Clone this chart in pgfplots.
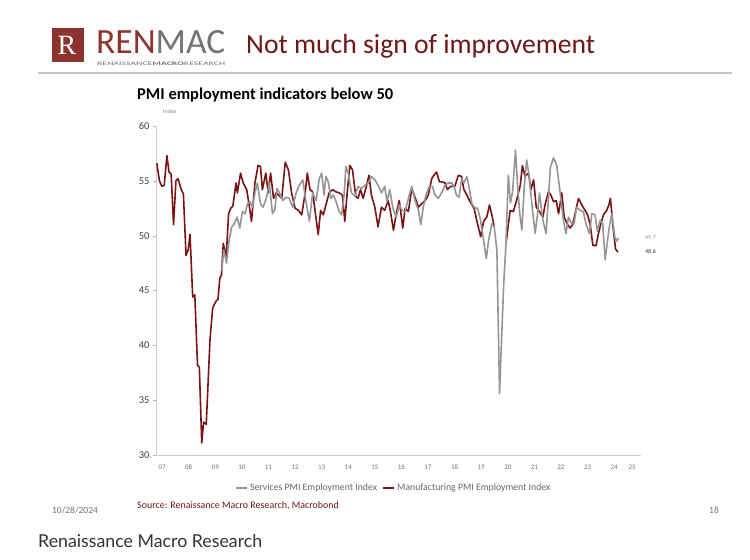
\documentclass[border=0pt]{standalone}
\usepackage{pgfplots}
\pgfplotsset{compat=1.18}
\usepackage{fontspec}
\setmainfont{Carlito}
\newfontfamily\latofont{Lato}
\newfontfamily\seriffont{Liberation Serif}
\definecolor{mfg}{RGB}{122,20,20}
\definecolor{svc}{RGB}{150,150,150}
\definecolor{brand}{RGB}{142,52,46}
\definecolor{titlered}{RGB}{110,24,24}
\definecolor{capgray}{RGB}{51,51,51}

\pgfplotstableread{
x y
2007.30 56.6
2007.40 55.0
2007.49 54.5
2007.58 54.6
2007.68 57.3
2007.76 55.8
2007.84 55.6
2007.93 51.0
2008.02 55.0
2008.10 55.2
2008.22 54.2
2008.30 53.8
2008.40 48.2
2008.48 48.7
2008.55 50.1
2008.65 44.4
2008.73 44.6
2008.83 38.2
2008.90 38.0
2008.99 31.1
2009.06 33.0
2009.16 32.8
2009.30 40.5
2009.40 43.4
2009.52 44.0
2009.60 44.2
2009.67 46.1
2009.73 46.4
2009.80 49.3
2009.91 48.0
2010.00 52.0
2010.08 52.5
2010.16 52.7
2010.28 54.8
2010.33 53.9
2010.45 55.7
2010.55 54.8
2010.68 54.2
2010.78 52.7
2010.86 51.3
2010.99 54.8
2011.11 56.4
2011.20 56.3
2011.27 54.2
2011.40 55.7
2011.49 53.9
2011.58 55.7
2011.69 53.4
2011.79 53.9
2011.88 53.7
2012.00 53.4
2012.13 56.7
2012.25 56.0
2012.37 53.9
2012.50 52.5
2012.63 52.3
2012.75 51.9
2012.88 53.9
2012.96 55.7
2013.06 54.2
2013.16 54.0
2013.25 52.3
2013.37 50.1
2013.46 52.3
2013.56 51.9
2013.66 52.8
2013.78 53.9
2013.91 54.2
2014.03 54.0
2014.16 53.9
2014.28 53.7
2014.37 51.3
2014.46 53.9
2014.56 56.4
2014.66 56.0
2014.78 53.6
2014.87 53.4
2014.96 54.2
2015.06 53.4
2015.18 54.5
2015.28 55.5
2015.37 53.7
2015.50 52.6
2015.62 50.8
2015.75 52.6
2015.87 52.3
2016.00 53.2
2016.08 52.3
2016.20 50.5
2016.32 52.2
2016.42 53.2
2016.55 50.7
2016.64 52.5
2016.76 52.2
2016.89 54.3
2017.01 53.5
2017.14 52.6
2017.26 52.9
2017.39 53.2
2017.51 53.7
2017.64 55.2
2017.72 55.5
2017.82 55.8
2017.93 54.9
2018.05 54.9
2018.14 54.8
2018.23 54.2
2018.35 54.5
2018.51 54.5
2018.64 55.5
2018.76 55.4
2018.85 54.2
2018.96 53.7
2019.08 53.1
2019.23 52.5
2019.36 51.1
2019.48 49.9
2019.59 51.3
2019.71 51.7
2019.81 52.8
2019.90 51.9
2019.99 50.8
2020.09 nan
2020.43 49.2
2020.52 51.0
2020.59 52.3
2020.71 52.2
2020.84 53.3
2020.97 54.6
2021.05 56.4
2021.15 55.4
2021.28 55.7
2021.37 54.2
2021.47 55.1
2021.57 52.6
2021.69 52.2
2021.82 51.7
2021.90 52.8
2022.03 54.0
2022.12 53.7
2022.22 53.1
2022.32 53.2
2022.41 52.0
2022.53 53.9
2022.62 51.7
2022.75 51.0
2022.84 50.7
2022.94 51.0
2023.03 52.0
2023.16 53.4
2023.28 52.8
2023.41 52.3
2023.50 51.9
2023.60 51.0
2023.70 49.1
2023.82 49.1
2023.91 50.2
2024.00 51.1
2024.10 51.9
2024.22 52.3
2024.30 52.8
2024.36 53.4
2024.45 51.0
2024.55 48.8
2024.64 48.5
}\mfgdata

\pgfplotstableread{
x y
2009.74 46.8
2009.82 48.7
2009.92 47.5
2010.02 49.6
2010.12 50.8
2010.22 51.1
2010.32 51.7
2010.42 50.7
2010.52 52.2
2010.62 52.0
2010.71 52.9
2010.80 53.1
2010.90 52.6
2010.99 53.9
2011.08 54.8
2011.20 52.9
2011.30 52.6
2011.43 53.5
2011.53 54.8
2011.65 52.0
2011.74 52.4
2011.82 54.3
2011.91 53.9
2012.04 53.2
2012.16 53.5
2012.28 53.4
2012.41 52.6
2012.54 53.9
2012.66 54.6
2012.79 55.1
2012.91 53.1
2013.04 51.3
2013.16 53.9
2013.29 53.2
2013.41 55.2
2013.50 55.7
2013.59 53.7
2013.66 55.4
2013.75 54.9
2013.84 53.4
2013.94 53.7
2014.03 53.2
2014.16 52.2
2014.25 51.9
2014.34 53.6
2014.41 56.3
2014.50 55.7
2014.62 53.9
2014.75 53.6
2014.87 54.5
2015.00 54.3
2015.12 54.6
2015.25 54.8
2015.37 55.4
2015.50 55.1
2015.62 54.6
2015.75 53.9
2015.87 54.5
2015.96 53.1
2016.06 54.2
2016.18 52.5
2016.30 51.7
2016.42 52.8
2016.53 52.3
2016.64 52.2
2016.76 53.4
2016.89 54.5
2017.01 53.2
2017.14 52.3
2017.23 51.0
2017.32 52.6
2017.42 53.7
2017.55 54.5
2017.67 54.5
2017.76 53.7
2017.89 53.4
2018.01 53.9
2018.14 54.6
2018.26 54.8
2018.39 54.8
2018.48 54.5
2018.57 53.7
2018.67 53.5
2018.76 55.2
2018.85 54.8
2018.96 55.4
2019.06 54.2
2019.15 52.9
2019.27 52.5
2019.36 52.5
2019.46 51.6
2019.59 49.6
2019.69 47.9
2019.78 49.6
2019.90 51.1
2019.99 50.8
2020.09 48.7
2020.19 35.6
2020.27 40.8
2020.35 45.8
2020.43 49.2
2020.52 55.5
2020.60 53.0
2020.68 54.0
2020.79 57.8
2020.87 54.5
2020.95 52.0
2021.03 50.5
2021.12 54.5
2021.21 56.9
2021.30 55.5
2021.40 53.0
2021.53 50.2
2021.62 52.0
2021.69 53.9
2021.82 51.4
2021.94 50.2
2022.03 53.5
2022.10 56.2
2022.22 57.1
2022.34 56.4
2022.47 53.9
2022.59 51.4
2022.69 50.2
2022.78 51.7
2022.90 51.1
2022.99 51.1
2023.09 52.6
2023.22 52.3
2023.34 52.2
2023.44 51.1
2023.57 50.2
2023.66 52.0
2023.78 51.9
2023.87 50.4
2023.97 51.4
2024.07 51.1
2024.16 47.8
2024.30 50.5
2024.41 52.0
2024.53 49.8
2024.60 49.5
2024.66 49.8
}\svcdata

\begin{document}
\begin{tikzpicture}[x=1bp,y=1bp]
\path[use as bounding box, fill=white] (0,0) rectangle (750,560);
% header
\fill[brand] (52,498) rectangle (84,532);
\node[text=white, inner sep=0, font=\seriffont\fontsize{28}{28}\selectfont] at (67,515) {R};
\node[anchor=base west, inner sep=0] at (96,506) {\resizebox{129bp}{!}{\fontsize{36}{36}\selectfont\textcolor{brand}{REN}\textcolor{black!55}{MAC}}};
\node[anchor=base west, inner sep=0] at (97,494) {\resizebox{128bp}{3.5bp}{\fontsize{6}{6}\selectfont\color{black!55}RENAISSANCE\textbf{MACRO}RESEARCH}};
\node[anchor=base west, inner sep=0] at (246,506) {\resizebox{349bp}{!}{\fontsize{27}{27}\selectfont\color{titlered}Not much sign of improvement}};
\draw[black!22, line width=1.3bp] (38,487) -- (732,487);
% chart title
\node[anchor=base west, inner sep=0] at (137,460) {\resizebox{256bp}{!}{\bfseries\fontsize{15}{15}\selectfont PMI employment indicators below 50}};
\node[anchor=base west, inner sep=0, font=\fontsize{6}{6}\selectfont, text=black!45] at (163,446) {Index};
% footer
\node[anchor=base west, inner sep=0, font=\fontsize{9.5}{9.5}\selectfont, text=black!55] at (52,46) {10/28/2024};
\node[anchor=base west, inner sep=0, font=\fontsize{10}{10}\selectfont, text=titlered] at (137,51) {Source: Renaissance Macro Research, Macrobond};
\node[anchor=base west, inner sep=0, font=\fontsize{9.5}{9.5}\selectfont, text=black!55] at (709,46) {18};
\node[anchor=base west, inner sep=0] at (38,12) {\resizebox{224bp}{!}{\latofont\fontsize{16}{16}\selectfont\color{capgray}Renaissance Macro Research}};

\begin{axis}[
  at={(156bp,105bp)}, anchor=south west,
  scale only axis, width=485bp, height=329bp,
  xmin=2007.27, xmax=2025.51, ymin=30, ymax=60,
  axis x line*=bottom, axis y line*=left,
  axis line style={draw=black!20, line width=0.8bp, -},
  ytick={30,35,40,45,50,55,60},
  tick align=outside, major tick length=3bp,
  ytick style={draw=black!30},
  xtick={2007.5,2008.5,2009.5,2010.5,2011.5,2012.5,2013.5,2014.5,2015.5,2016.5,2017.5,2018.5,2019.5,2020.5,2021.5,2022.5,2023.5,2024.5,2025.18},
  xticklabels={07,08,09,10,11,12,13,14,15,16,17,18,19,20,21,22,23,24,25},
  xtick style={draw=none},
  x tick label style={font=\fontsize{7}{7}\selectfont, text=black!55, yshift=-3bp},
  y tick label style={font=\fontsize{10.5}{10.5}\selectfont, text=black!75},
  /pgf/number format/assume math mode=true,
  unbounded coords=jump,
  clip=false,
  reverse legend,
  legend columns=2,
  legend style={at={(0.49,-0.1)}, anchor=center, draw=none, fill=none,
    font=\fontsize{9.8}{9.8}\selectfont, text=black!60,
    /tikz/every even column/.append style={column sep=3bp}},
  legend image code/.code={\draw[#1, line width=2.2bp] (0bp,0bp) -- (11bp,0bp);},
]
\addplot[mfg, line width=1.6bp, line join=round] table {\mfgdata};
\addlegendentry{Manufacturing PMI Employment Index}
\addplot[svc, line width=1.6bp, line join=round] table {\svcdata};
\addlegendentry{Services PMI Employment Index}
\node[anchor=west, inner sep=0, font=\fontsize{6}{6}\selectfont, text=black!40] at (axis cs:2025.66,49.85) {49.7};
\node[anchor=west, inner sep=0, font=\fontsize{6}{6}\selectfont, text=black!80] at (axis cs:2025.66,48.55) {48.6};
\end{axis}
\end{tikzpicture}
\end{document}
